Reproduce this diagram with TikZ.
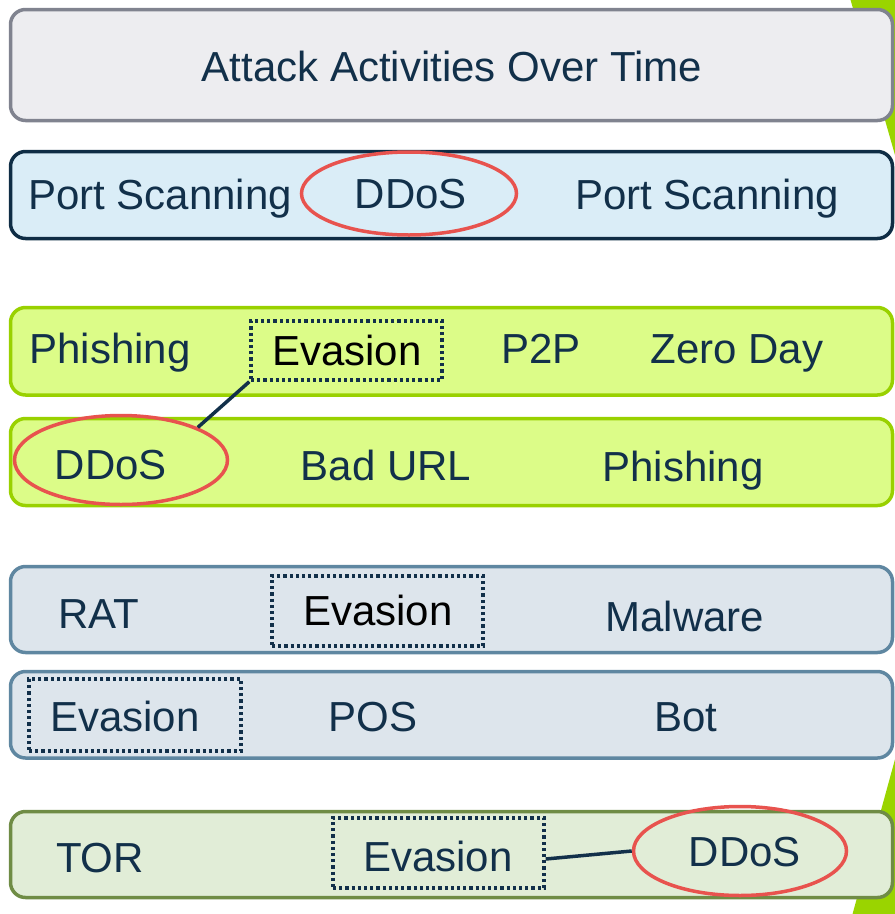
\documentclass[tikz,border=0pt]{standalone}
\usepackage{fontspec}
\setmainfont{Liberation Sans}
\usetikzlibrary{shapes.geometric}

\definecolor{ink}{HTML}{12304A}
\definecolor{ringred}{HTML}{E8534E}
\definecolor{accent}{HTML}{9AD400}
\definecolor{titlefill}{HTML}{EDEDF0}
\definecolor{titleline}{HTML}{80838F}
\definecolor{bluefill}{HTML}{DAEDF7}
\definecolor{blueline}{HTML}{0F2D45}
\definecolor{limefill}{HTML}{DCFC88}
\definecolor{limeline}{HTML}{99D100}
\definecolor{slatefill}{HTML}{DDE5EC}
\definecolor{slateline}{HTML}{5F87A1}
\definecolor{olivefill}{HTML}{E1EDD7}
\definecolor{oliveline}{HTML}{6F8C45}

\begin{document}
\begin{tikzpicture}[x=1pt,y=-1pt,
  row/.style={rectangle, line width=3.5pt, rounded corners=15pt, inner sep=0pt, minimum width=882pt},
  lbl/.style={font=\fontsize{42}{50}\selectfont, text=ink, inner sep=0pt, anchor=base},
  evbox/.style={rectangle, draw=ink, line width=3.4pt, dash pattern=on 3.2pt off 3pt, inner sep=0pt},
  ring/.style={ellipse, draw=ringred, line width=3.5pt, inner sep=0pt},
  link/.style={draw=ink, line width=3.5pt}]
\useasboundingbox (0,0) rectangle (895,914);
\clip (0,0) rectangle (895,914);

% green accent shape behind the rows
\fill[accent] (850,-2) -- (897,162) -- (897,-2) -- cycle;
\fill[accent] (897,752) -- (852,916) -- (897,916) -- cycle;

% rows
\node[row, draw=titleline, fill=titlefill, minimum height=111pt] (r1) at (451.5,65) {};
\node[row, draw=blueline, fill=bluefill, minimum height=87pt] (r2) at (451.5,195) {};
\node[row, draw=limeline, fill=limefill, minimum height=87.5pt] (r3) at (451.5,351.25) {};
\node[row, draw=limeline, fill=limefill, minimum height=87pt] (r4) at (451.5,462) {};
\node[row, draw=slateline, fill=slatefill, minimum height=86pt] (r5) at (451.5,609.5) {};
\node[row, draw=slateline, fill=slatefill, minimum height=86.5pt] (r6) at (451.5,714.75) {};
\node[row, draw=oliveline, fill=olivefill, minimum height=86pt] (r7) at (451.5,854.5) {};

% title
\node[lbl] (title) at (452,81) {Attack Activities Over Time};

% row 2
\node[lbl, anchor=base west] (ps1) at (28,209) {Port Scanning};
\node[lbl] (t2) at (411,208) {DDoS};
\node[lbl] (ps2) at (707,209) {Port Scanning};
\node[ring, minimum width=215pt, minimum height=83pt] (d2) at (409,193.5) {};

% row 3
\node[lbl] (ph1) at (110,363) {Phishing};
\node[evbox, minimum width=191pt, minimum height=59pt] (e3) at (346.5,350.5) {};
\node[lbl, text=black] (et3) at (347,365) {Evasion};
\node[lbl] (p2p) at (541,363) {P2P};
\node[lbl] (zd) at (737,363) {Zero Day};

% row 4
\node[lbl] (t4) at (111,479) {DDoS};
\node[lbl] (bu) at (386,480) {Bad URL};
\node[lbl] (ph2) at (683,481) {Phishing};
\node[ring, minimum width=213pt, minimum height=89pt] (d4) at (121,460) {};
\draw[link] (e3.south west) -- (d4.23);

% row 5
\node[lbl] (rat) at (99,628) {RAT};
\node[evbox, minimum width=211pt, minimum height=70pt] (e5) at (377.5,611) {};
\node[lbl, text=black] (et5) at (378,625) {Evasion};
\node[lbl] (mw) at (685,631) {Malware};

% row 6
\node[evbox, minimum width=212pt, minimum height=72pt] (e6) at (135,715) {};
\node[lbl] (et6) at (125,731) {Evasion};
\node[lbl] (pos) at (373,731) {POS};
\node[lbl] (bot) at (686,731) {Bot};

% row 7
\node[lbl] (tor) at (100,872) {TOR};
\node[evbox, minimum width=211pt, minimum height=70pt] (e7) at (438.5,853) {};
\node[lbl] (et7) at (438,871) {Evasion};
\node[lbl] (t7) at (745,866) {DDoS};
\node[ring, minimum width=213pt, minimum height=89pt] (d7) at (740,851) {};
\draw[link] ([yshift=-6pt]e7.east) -- (d7.west);
\end{tikzpicture}
\end{document}
